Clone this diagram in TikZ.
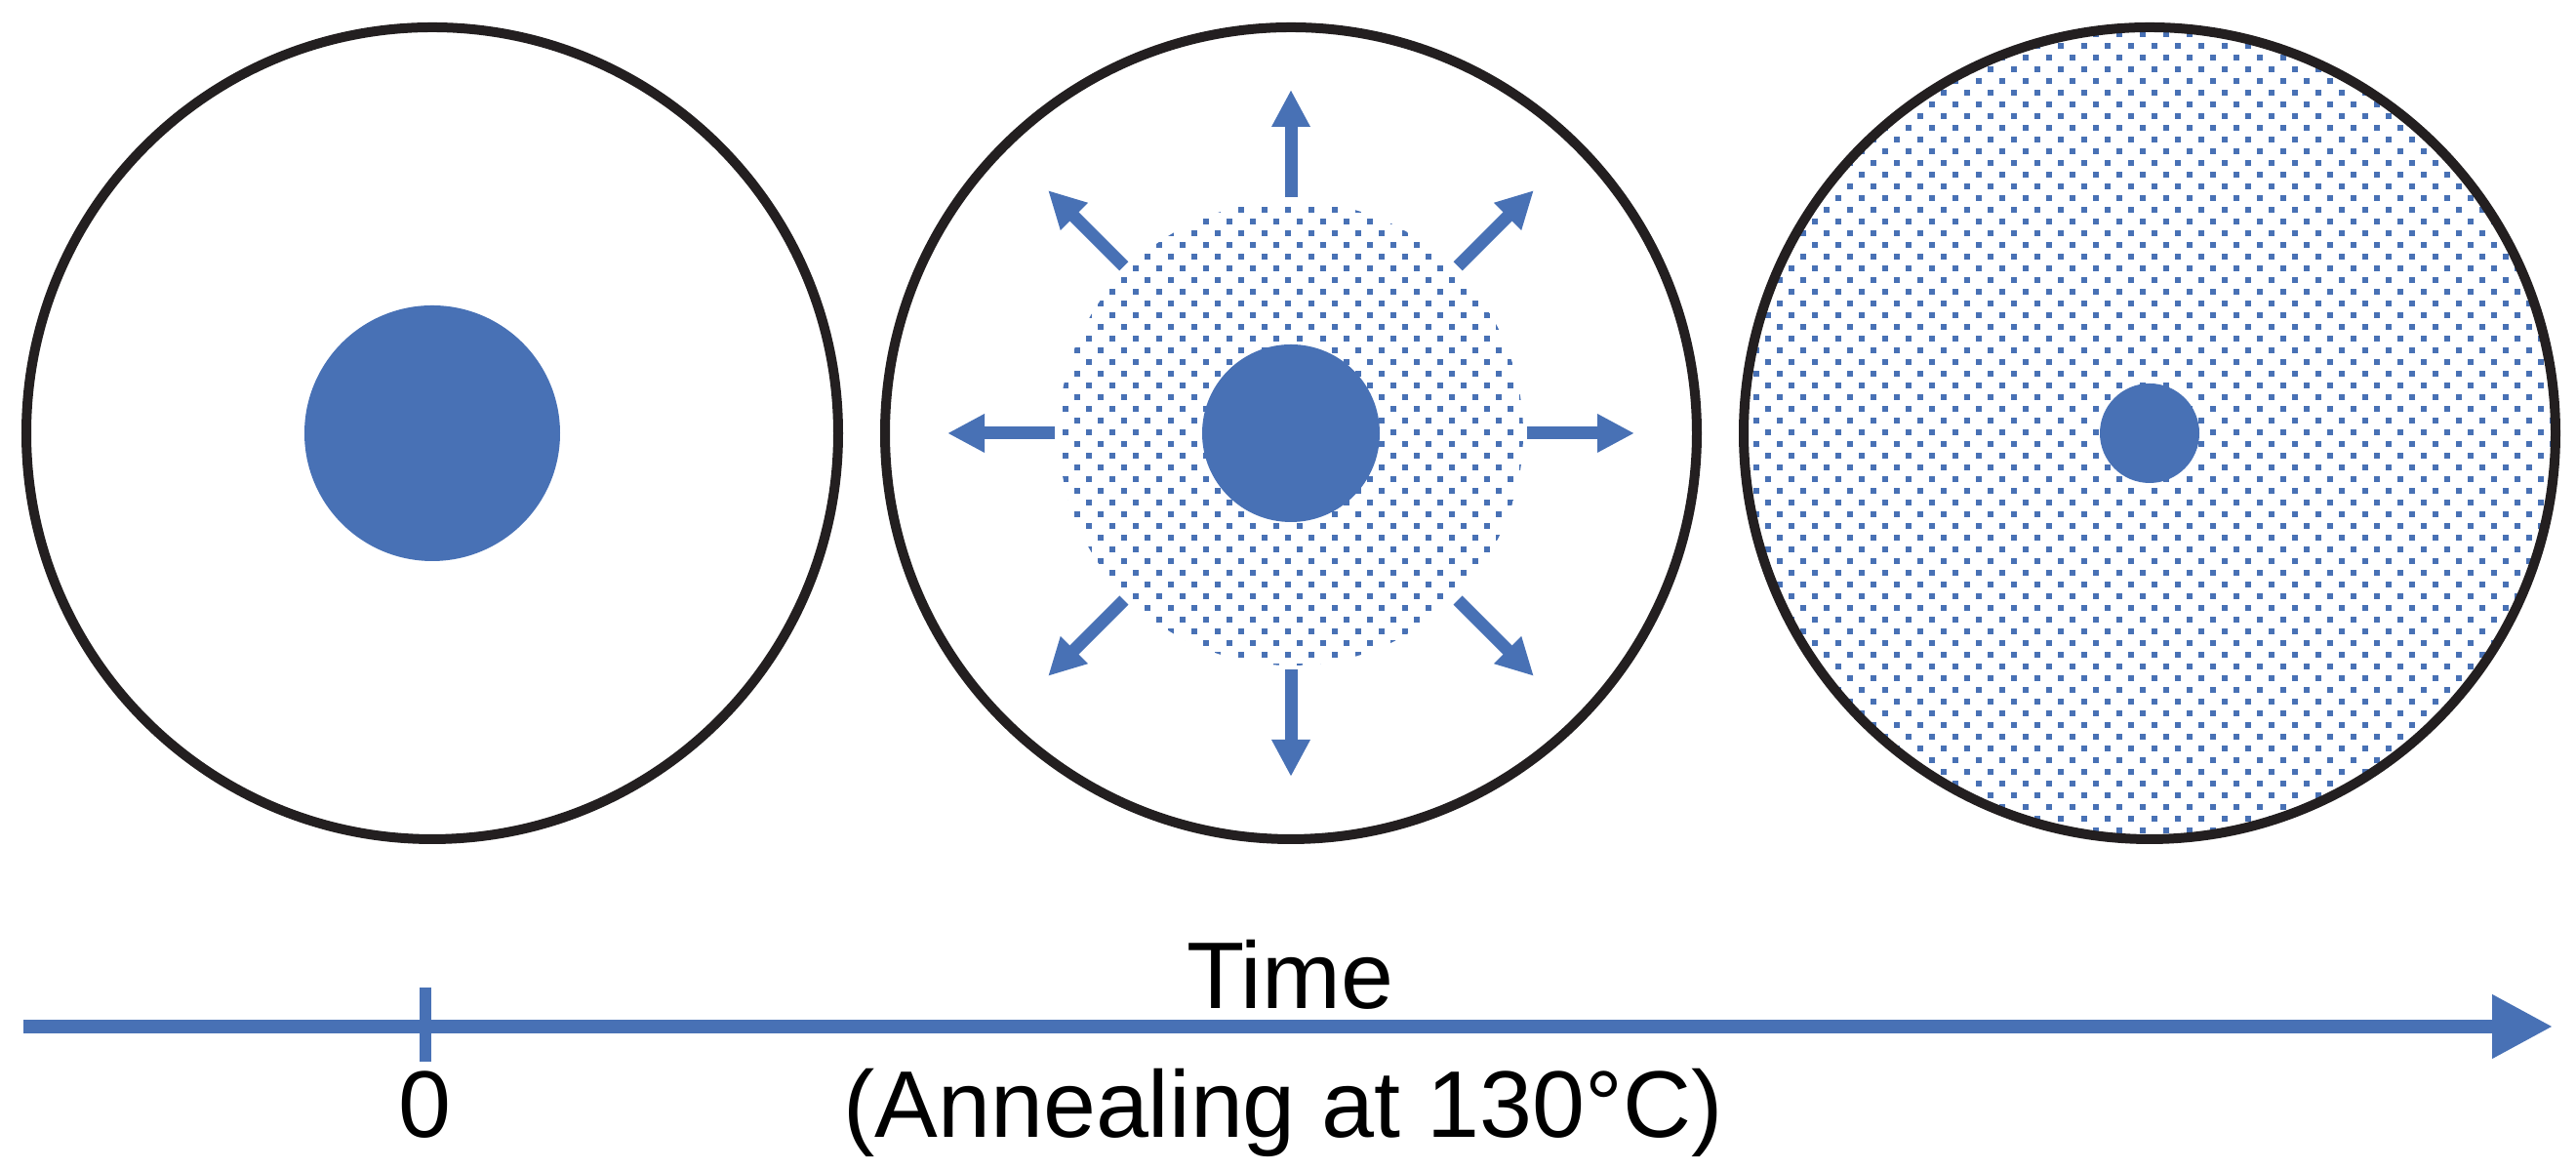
\documentclass[tikz,border=0pt]{standalone}
\usepackage{fontspec}
\setmainfont{Liberation Sans}
\usetikzlibrary{arrows.meta, calc}
\definecolor{myblue}{RGB}{72, 113, 181}
\definecolor{rimblack}{RGB}{35, 31, 32}
\tikzset{
    ring/.style = {circle, draw=rimblack, line width=0.1cm, minimum size=8.32cm, inner sep=0pt},
    core/.style = {circle, fill=myblue, inner sep=0pt},
    spread/.style = {myblue, line width=0.13cm, -{Triangle[length=0.38cm, width=0.37cm]}},
    axis/.style = {myblue, line width=0.14cm, -{Triangle[length=0.62cm, width=0.62cm]}},
    tickline/.style = {myblue, line width=0.12cm},
    lbl/.style = {font=\fontsize{27.6pt}{33pt}\selectfont, inner sep=0pt, anchor=base}
}
% staggered grid of small squares, indices in steps of 0.12cm
\newcommand{\dotgrid}[4]{%
  \foreach \j in {#3,...,#4}{%
    \foreach \i in {#1,...,#2}{%
      \pgfmathsetmacro\dx{0.24*\i+0.12*mod(\j,2)-0.03}%
      \pgfmathsetmacro\dy{0.12*\j-0.03}%
      \fill[myblue] (\dx,\dy) rectangle ++(0.06,0.06);
    }}}

\begin{document}
\begin{tikzpicture}
  \useasboundingbox (0,0) rectangle (26.4,11.99);

  % stage 1
  \node[ring] (s1) at (4.43,7.55) {};
  \node[core, minimum size=2.62cm] (core1) at (s1) {};

  % stage 2
  \begin{scope}
    \clip (13.23,7.55) circle (2.38);
    \dotgrid{45}{65}{43}{83}
  \end{scope}
  \node[ring] (s2) at (13.23,7.55) {};
  \node[core, minimum size=1.82cm] (core2) at (s2) {};
  \foreach \a in {0,45,...,315}
    \draw[spread] ($(s2)+(\a:2.42)$) -- ($(s2)+(\a:3.52)$);

  % stage 3
  \begin{scope}
    \clip (22.03,7.55) circle (4.16);
    \dotgrid{74}{109}{28}{98}
  \end{scope}
  \node[ring] (s3) at (22.03,7.55) {};
  \node[core, minimum size=1.02cm] (core3) at (s3) {};

  % time axis
  \coordinate (start) at (0.24,1.47);
  \coordinate (end) at (26.16,1.47);
  \coordinate (zero) at (4.36,1.47);
  \draw[axis] (start) -- (end);
  \draw[tickline] ($(zero)+(0,0.40)$) -- ($(zero)+(0,-0.36)$);
  \node[lbl] (t0) at (4.35,0.33) {0};
  \node[lbl] (time) at (13.22,1.65) {Time};
  \node[lbl] (anneal) at (13.15,0.33) {(Annealing at 130°C)};
\end{tikzpicture}
\end{document}
